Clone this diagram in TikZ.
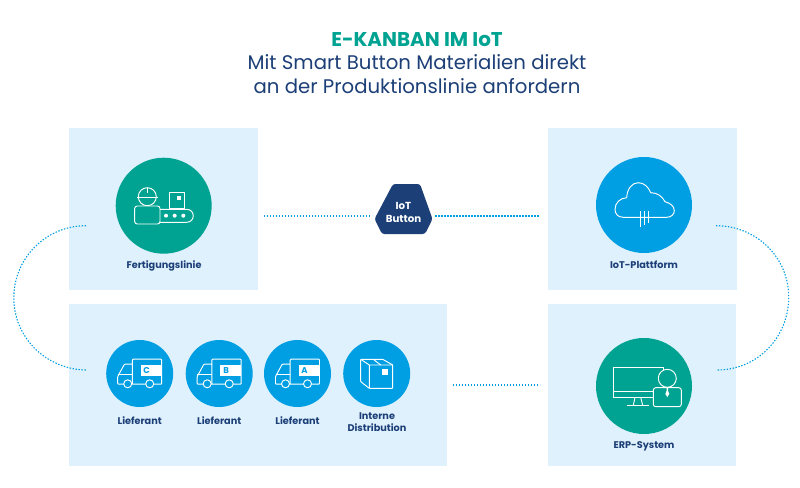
\documentclass[tikz,border=0pt]{standalone}
\usepackage{fontspec}
\setmainfont{Poppins}
\usetikzlibrary{calc}
\definecolor{panelblue}{HTML}{DFF1FD}
\definecolor{tealgreen}{HTML}{00A391}
\definecolor{skyblue}{HTML}{009FE3}
\definecolor{navy}{HTML}{1C3F77}
\tikzset{
  panel/.style={fill=panelblue,draw=none},
  disc/.style={circle,inner sep=0pt,minimum size=#1,draw=none},
  caption/.style={text=navy,font=\fontsize{9.7}{12}\selectfont\bfseries,align=center,inner sep=0pt},
  link/.style={draw=skyblue,line width=1.1pt,dash pattern=on 1.4pt off 1.6pt},
  icon/.style={draw=white,line width=0.95pt,line join=round},
  truck/.pic={
    \draw[icon,rounded corners=0.8pt] (-7.3,-9.3) -- (-15.3,-9.3) -- (-22,3) -- (-22,10.7) -- (22,10.7) -- (22,-14.3) -- (-7.3,-14.3) -- (-7.3,10.7);
    \draw[icon] (-22,1.3) -- (-7.3,1.3);
    \fill[white] (1,-9) rectangle (22,2);
    \node[text=skyblue,font=\fontsize{8.5}{9}\selectfont\bfseries,inner sep=0pt] (-letter) at (7,-3.2) {\tikzpictext};
    \filldraw[icon,fill=skyblue] (-12,10.3) circle[radius=4pt];
    \filldraw[icon,fill=skyblue] (10,10.3) circle[radius=4pt];
  }
}
\begin{document}
\begin{tikzpicture}[x=1pt,y=-1pt]
\useasboundingbox[fill=white] (0,0) rectangle (800,487);

% heading
\node[text=tealgreen,font=\fontsize{19.9}{22}\selectfont\bfseries,inner sep=0pt] (head) at (417,39.5) {E-KANBAN IM IoT};
\node[text=navy,font=\fontsize{19.7}{24}\selectfont,align=center,inner sep=0pt] (sub) at (417,74.5) {Mit Smart Button Materialien direkt\\an der Produktionslinie anfordern};

% background panels
\path[panel] (69,128) rectangle (258,290);
\path[panel] (548,128) rectangle (737,290);
\path[panel] (69,304) rectangle (447,466);
\path[panel] (548,304) rectangle (736,466);

% connector end points
\coordinate (lineL) at (264,216);
\coordinate (lineR) at (540,216);
\coordinate (distE) at (453,385);
\coordinate (erpW) at (540,385);
\coordinate (leftTop) at (86,225.7);
\coordinate (leftBot) at (87,370);
\coordinate (rightTop) at (716,225.7);
\coordinate (rightBot) at (717,370);

% IoT button
\node[inner sep=0pt,minimum size=0pt] (btnW) at (370,216) {};
\node[inner sep=0pt,minimum size=0pt] (btnE) at (435,216) {};
\fill[navy,rounded corners=2.5pt] (393,184) -- (420,184) -- (432.5,219) -- (425,234) -- (382,234) -- (374.5,219) -- cycle;
\node[text=white,font=\fontsize{10.2}{12.5}\selectfont\bfseries,align=center,inner sep=0pt] (button) at (403.5,212.5) {IoT\\Button};

% connectors
\draw[link] (lineL) -- (btnW);
\draw[link] (btnE) -- (lineR);
\draw[link] (distE) -- (erpW);
\draw[link] (leftTop) .. controls (46,225.7) and (13.8,258) .. (13.8,298) .. controls (13.8,338) and (47,370) .. (leftBot);
\draw[link] (rightTop) .. controls (756,225.7) and (788.7,257) .. (788.7,297) .. controls (788.7,338) and (757,370) .. (rightBot);

% main discs
\node[disc=96pt,fill=tealgreen] (line) at (163.7,205.7) {};
\node[disc=96pt,fill=skyblue] (cloud) at (644,205) {};
\node[disc=96pt,fill=tealgreen] (erp) at (644,386) {};
\node[disc=67pt,fill=skyblue] (supC) at (139.7,373.5) {};
\node[disc=67pt,fill=skyblue] (supB) at (219.2,373.5) {};
\node[disc=67pt,fill=skyblue] (supA) at (297.5,373.5) {};
\node[disc=67pt,fill=skyblue] (dist) at (376.7,373.5) {};

% captions
\node[caption] (capLine) at (164,265.5) {Fertigungslinie};
\node[caption] (capCloud) at (644,264.5) {IoT-Plattform};
\node[caption] (capErp) at (644,446.5) {ERP-System};
\node[caption] (capC) at (139.7,420.5) {Lieferant};
\node[caption] (capB) at (219.2,420.5) {Lieferant};
\node[caption] (capA) at (297.5,420.5) {Lieferant};
\node[caption] (capD) at (377,422.5) {Interne\\Distribution};

% worker at the conveyor
\draw[icon] (147.3,196.7) circle[radius=9pt];
\draw[icon] (137,197.3) -- (158,197.3);
\draw[icon] (147.3,188) -- (147.3,193);
\filldraw[icon,fill=tealgreen,rounded corners=2.5pt] (134.7,206) rectangle (160,224);
\draw[icon] (160,209.3) -- (186.5,209.3) .. controls (195.5,209.3) and (195.5,222.3) .. (186.5,222.3) -- (160,222.3);
\foreach \dotx in {166,174.7,183.3} \fill[white] (\dotx,215.7) circle[radius=2pt];
\draw[icon] (169.3,192.7) rectangle (184.7,208.8);
\fill[white] (176.7,195.7) rectangle (181,200);

% cloud with signal lines
\draw[icon] (623.3,217.3) .. controls (617,217.3) and (615,213) .. (615,209.3)
  .. controls (615,203) and (620,198) .. (626.7,197.7)
  .. controls (627,189) and (632,182.7) .. (638.3,182.7)
  .. controls (644,182.7) and (648.5,187) .. (650.7,192.7)
  .. controls (657,192.7) and (662,196) .. (665,201.7)
  .. controls (670,203) and (674.3,206) .. (674.3,210.7)
  .. controls (674.3,214.5) and (671,217.3) .. (666.7,217.3) -- cycle;
\draw[icon] (640,211) -- (640,227);
\draw[icon] (644.3,211) -- (644.3,225);
\draw[icon] (648.7,211) -- (648.7,223);

% delivery trucks
\pic[pic text=C] at (139.7,373.5) {truck};
\pic[pic text=B] at (219.2,373.5) {truck};
\pic[pic text=A] at (297.5,373.5) {truck};

% parcel
\draw[icon,rounded corners=0.6pt] (369.3,365) rectangle (392.7,388.3);
\draw[icon,rounded corners=0.6pt] (369.3,365) -- (360.7,359.3) -- (382.7,359.3) -- (392.7,365);
\draw[icon,rounded corners=0.6pt] (360.7,359.3) -- (360.7,381.7) -- (369.3,388.3);
\draw[icon] (373.3,359.3) -- (380.7,365);
\fill[white] (382,369) rectangle (388,374.7);

% monitor and operator
\draw[icon] (613.3,367.3) rectangle (663.3,397.3);
\draw[icon] (613.3,391) -- (663.3,391);
\draw[icon] (635,397.3) -- (633.3,405.3);
\draw[icon] (640.7,397.3) -- (642.7,405.3);
\draw[icon] (627.3,405.3) -- (649.3,405.3);
\filldraw[icon,fill=tealgreen] (667.3,378.3) circle[radius=9pt];
\filldraw[icon,fill=tealgreen,rounded corners=2.5pt] (653.3,387.7) rectangle (681.3,406.7);
\fill[white] (666.5,388) -- (668.1,388) -- (668.1,391) -- (669.3,394) -- (667.3,397) -- (665.3,394) -- (666.5,391) -- cycle;
\end{tikzpicture}
\end{document}
